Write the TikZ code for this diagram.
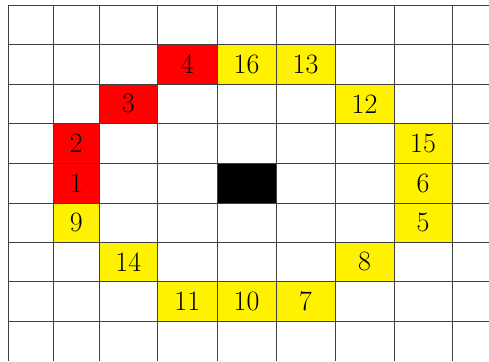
\documentclass[tikz,border=0pt]{standalone}
\begin{document}
\begin{tikzpicture}[x=1pt,y=-1pt,
  gridline/.style={draw=black!75,line width=0.7pt},
  num/.style={inner sep=0pt,font=\fontsize{28}{32}\selectfont},
  redcell/.style={fill=red},
  yelcell/.style={fill=yellow},
  blkcell/.style={fill=black}]
\useasboundingbox (0,0) rectangle (489,361);
% coloured cells
\path[redcell] (157.5,44) rectangle node[num] (c4) {4} (217,84);
\path[yelcell] (217,44) rectangle node[num] (c16) {16} (276,84);
\path[yelcell] (276,44) rectangle node[num] (c13) {13} (335,84);
\path[redcell] (99,84) rectangle node[num] (c3) {3} (157.5,123.5);
\path[yelcell] (335,84) rectangle node[num] (c12) {12} (394,123.5);
\path[redcell] (53.5,123.5) rectangle node[num] (c2) {2} (99,163);
\path[yelcell] (394,123.5) rectangle node[num] (c15) {15} (452,163);
\path[redcell] (53.5,163) rectangle node[num] (c1) {1} (99,203);
\path[blkcell] (217,163) rectangle node[num] (blk) {} (276,203);
\path[yelcell] (394,163) rectangle node[num] (c6) {6} (452,203);
\path[yelcell] (53.5,203) rectangle node[num] (c9) {9} (99,242);
\path[yelcell] (394,203) rectangle node[num] (c5) {5} (452,242);
\path[yelcell] (99,242) rectangle node[num] (c14) {14} (157.5,281.5);
\path[yelcell] (335,242) rectangle node[num] (c8) {8} (394,281.5);
\path[yelcell] (157.5,281.5) rectangle node[num] (c11) {11} (217,321);
\path[yelcell] (217,281.5) rectangle node[num] (c10) {10} (276,321);
\path[yelcell] (276,281.5) rectangle node[num] (c7) {7} (335,321);
% grid
\foreach \x in {8,53.5,99,157.5,217,276,335,394,452}
  \draw[gridline] (\x,5) -- (\x,361);
\foreach \y in {5,44,84,123.5,163,203,242,281.5,321}
  \draw[gridline] (8,\y) -- (489,\y);
\end{tikzpicture}
\end{document}
